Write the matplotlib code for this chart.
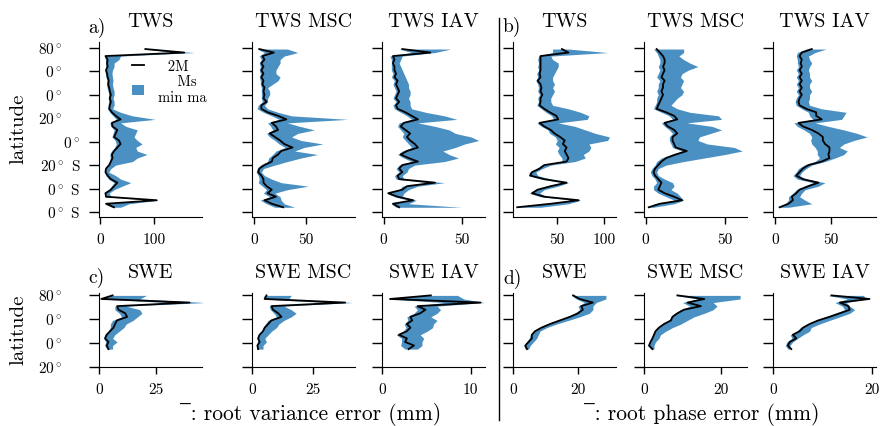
import matplotlib.pyplot as plt
from matplotlib.lines import Line2D
from matplotlib.patches import Patch

plt.rcParams['font.family'] = ['cmr10', 'DejaVu Serif', 'DejaVu Sans']
plt.rcParams['mathtext.fontset'] = 'cm'
plt.rcParams['axes.unicode_minus'] = False

BLUE = '#4a90c2'

# latitude grids (degrees)
lat_top = [79, 76, 73, 70, 67, 64, 61, 58, 55, 52, 49, 46, 43, 40, 37, 34, 31, 28, 25, 22,
           19, 16, 13, 10, 7, 4, 1, -2, -5, -8, -11, -14, -17, -20, -23, -26, -29, -32, -35, -38,
           -41, -44, -47, -50, -53, -56]
lat_bot = [80, 77, 74, 71, 68, 65, 62, 59, 56, 53, 50, 47, 44, 41, 38, 35]

# a) TWS root variance error
tws_var = [84, 156, 10, 14, 13, 14, 11, 13, 14, 16, 15, 17, 18, 20, 18, 20, 18, 17, 22, 29,
           38, 22, 23, 32, 29, 26, 35, 38, 32, 26, 22, 23, 20, 17, 11, 10, 14, 20, 32, 26,
           20, 10, 11, 105, 11, 26]
tws_var_lo = [80, 140, 8, 10, 10, 11, 9, 10, 11, 13, 12, 13, 15, 16, 15, 16, 15, 14, 18, 24,
              30, 18, 20, 26, 24, 22, 28, 30, 27, 21, 18, 19, 17, 13, 9, 8, 11, 16, 26, 21,
              16, 8, 9, 95, 9, 22]
tws_var_hi = [90, 175, 38, 35, 26, 26, 23, 22, 23, 24, 23, 24, 26, 26, 24, 26, 26, 23, 38, 60,
              102, 38, 48, 69, 66, 63, 69, 78, 66, 69, 87, 69, 60, 29, 20, 16, 29, 38, 57, 41,
              26, 17, 20, 108, 54, 38]

msc_var = [5, 19, 8, 10, 7, 9, 7, 9, 7, 9, 8, 10, 9, 10, 9, 12, 7, 7, 13, 23,
           31, 17, 21, 23, 15, 20, 25, 29, 37, 26, 23, 18, 17, 10, 5, 4, 7, 9, 9, 12,
           17, 13, 21, 10, 17, 28]
msc_var_lo = [3, 10, 5, 7, 5, 6, 5, 6, 5, 6, 6, 7, 7, 7, 7, 8, 4, 3, 9, 17,
              24, 13, 16, 18, 12, 15, 20, 24, 30, 21, 18, 14, 13, 6, 3, 2, 4, 5, 4, 8,
              12, 9, 15, 6, 12, 20]
msc_var_hi = [32, 42, 29, 25, 25, 23, 21, 21, 25, 23, 18, 13, 15, 15, 13, 13, 10, 13, 23, 36,
              90, 32, 44, 58, 42, 36, 45, 66, 48, 39, 61, 45, 32, 20, 9, 7, 10, 17, 26, 52,
              32, 20, 25, 26, 29, 39]

iav_var = [12, 30, 6, 7, 6, 7, 7, 8, 7, 9, 8, 9, 10, 9, 8, 10, 8, 9, 14, 18,
           22, 13, 11, 14, 17, 15, 17, 20, 22, 15, 11, 16, 22, 12, 10, 12, 9, 10, 33, 15,
           12, 3, 9, 19, 6, 10]
iav_var_lo = [10, 18, 4, 5, 5, 5, 5, 6, 5, 7, 6, 7, 8, 7, 6, 8, 6, 7, 11, 15,
              18, 10, 9, 11, 13, 12, 14, 16, 18, 12, 9, 13, 18, 10, 8, 10, 7, 8, 28, 12,
              10, 2, 7, 16, 5, 8]
iav_var_hi = [43, 33, 12, 11, 10, 11, 12, 13, 14, 15, 16, 16, 17, 17, 16, 17, 17, 18, 27, 39,
              47, 22, 33, 42, 46, 56, 61, 52, 46, 38, 42, 48, 39, 20, 16, 15, 12, 13, 39, 22,
              16, 13, 12, 21, 16, 50]

# b) TWS root phase error
tws_ph = [55, 62, 32, 32, 32, 32, 32, 31, 32, 29, 32, 33, 32, 34, 32, 32, 31, 36, 42, 49,
          51, 31, 36, 43, 47, 53, 58, 56, 60, 58, 60, 62, 60, 36, 31, 23, 21, 36, 60, 43,
          29, 23, 36, 73, 43, 7]
tws_ph_lo = [45, 45, 30, 29, 30, 29, 30, 28, 29, 27, 29, 30, 29, 31, 29, 30, 28, 33, 38, 44,
             46, 28, 33, 40, 42, 48, 50, 48, 52, 50, 52, 55, 55, 33, 28, 20, 19, 33, 55, 38,
             26, 20, 32, 68, 38, 6]
tws_ph_hi = [62, 104, 43, 45, 51, 51, 49, 47, 45, 45, 47, 45, 47, 45, 43, 43, 45, 62, 75, 84,
             82, 51, 69, 80, 91, 106, 104, 84, 86, 84, 78, 80, 69, 43, 34, 27, 29, 43, 62, 51,
             36, 31, 40, 75, 62, 32]

msc_ph = [7, 9, 11, 12, 12, 11, 12, 11, 10, 12, 11, 11, 10, 11, 10, 9, 8, 7, 13, 18,
          20, 12, 14, 18, 20, 17, 17, 18, 19, 26, 19, 13, 10, 8, 6, 5, 6, 8, 10, 9,
          8, 12, 18, 23, 9, 2]
msc_ph_lo = [5, 7, 8, 9, 9, 8, 9, 8, 7, 9, 8, 8, 7, 8, 7, 7, 6, 5, 10, 15,
             17, 10, 12, 15, 17, 15, 15, 16, 17, 23, 16, 10, 7, 6, 4, 3, 4, 6, 7, 5,
             5, 8, 13, 18, 6, 1]
msc_ph_hi = [24, 24, 21, 24, 28, 33, 27, 23, 22, 24, 23, 22, 24, 23, 20, 18, 16, 20, 28, 46,
             48, 26, 42, 48, 41, 34, 33, 39, 56, 61, 50, 37, 24, 13, 8, 7, 8, 12, 17, 18,
             16, 20, 22, 24, 18, 5]

iav_ph = [33, 24, 22, 24, 23, 24, 22, 24, 22, 24, 22, 24, 22, 24, 22, 21, 22, 28, 37, 37,
          42, 21, 25, 33, 39, 43, 43, 45, 49, 49, 48, 49, 42, 30, 25, 22, 19, 25, 39, 30,
          22, 19, 15, 16, 12, 4]
iav_ph_lo = [28, 20, 19, 20, 20, 21, 19, 21, 19, 21, 19, 21, 19, 21, 19, 18, 19, 24, 30, 31,
             34, 17, 20, 26, 31, 33, 32, 33, 36, 38, 38, 40, 36, 26, 21, 19, 16, 20, 34, 26,
             19, 16, 12, 12, 9, 3]
iav_ph_hi = [46, 36, 30, 31, 33, 31, 30, 31, 31, 33, 31, 31, 33, 31, 31, 30, 31, 42, 64, 62,
             60, 36, 48, 62, 74, 83, 71, 62, 58, 65, 62, 54, 45, 33, 28, 24, 22, 28, 45, 39,
             27, 24, 22, 27, 33, 12]

# c) SWE root variance error
swe_var = [6, 1, 40, 8, 8.6, 11.6, 12.4, 7.9, 7.1, 6.4, 4.9, 3.4, 2.7, 4.2, 3.4, 4.2]
swe_var_lo = [5, 1, 30, 7, 7, 9, 10, 6, 5, 5, 4, 2.5, 2, 3, 2.5, 3.5]
swe_var_hi = [21, 18, 47, 12, 18, 19, 17, 15, 12, 11, 9, 7, 6, 8, 6, 6]

smsc_var = [5.9, 5.2, 38, 7.9, 8.6, 10.7, 12, 7.9, 6.6, 5.2, 4.5, 3.1, 2.5, 3.1, 2.2, 2.5]
smsc_var_lo = [5, 4.5, 30, 7, 7.5, 9, 10, 6.5, 5.5, 4.5, 3.8, 2.5, 2, 2.5, 1.8, 2]
smsc_var_hi = [16, 15, 41, 13, 16, 18, 16, 13, 11, 10, 8, 6.6, 5.2, 5.9, 4.5, 4.5]

siav_var = [5.5, 0.9, 11.1, 4, 4.9, 4.3, 3.2, 3.4, 2.8, 3.2, 2.8, 1.9, 2.8, 2.6, 3.6, 3]
siav_var_lo = [5, 0.8, 7, 3.6, 4, 3.6, 2.8, 2.9, 2.5, 2.7, 2.4, 1.6, 2.2, 2.2, 2.1, 2.6]
siav_var_hi = [8.5, 9.2, 11.5, 6.2, 6.6, 6.2, 5.5, 6.2, 5.8, 5.7, 5.1, 4.3, 4.7, 4.5, 4.5, 4]

# d) SWE root phase error
swe_ph = [18.5, 20.5, 24.6, 21, 21.5, 20, 17.5, 14.4, 11.4, 8.8, 6.8, 5.8, 5.8, 4.8, 3.8, 4.3]
swe_ph_lo = [18, 19.5, 22, 20, 20.5, 19, 16.5, 13.5, 10.5, 8, 6.3, 5.3, 5, 4.2, 3.3, 3.8]
swe_ph_hi = [28.6, 28.6, 25.6, 24.6, 24.6, 23.5, 20.5, 17, 13.4, 10.4, 8.3, 7.8, 7.3, 6.3, 5.3, 4.8]

smsc_ph = [8.7, 15.7, 11.3, 14.8, 10.4, 8.7, 7.4, 7, 5.2, 3.9, 3, 2.6, 2.2, 1.7, 1.3, 2.2]
smsc_ph_lo = [8, 14, 10, 12, 9.5, 8, 7, 6.5, 5, 3.6, 2.7, 2.3, 1.9, 1.4, 1, 1.8]
smsc_ph_hi = [25, 25, 18, 19, 18, 15.7, 13, 11.3, 9.6, 7.4, 5.7, 4.3, 3.9, 3, 2.6, 2.6]

siav_ph = [11.8, 19.5, 13.5, 15.2, 15.5, 13.5, 11.4, 9.1, 7.4, 6.1, 5.4, 4, 4.7, 3.4, 3, 3.7]
siav_ph_lo = [11, 15, 12.5, 14, 14.5, 12.5, 10.5, 8.5, 6.8, 5.5, 4.8, 3.5, 3.8, 2.8, 2.5, 3]
siav_ph_hi = [18.2, 18.9, 14.8, 15.5, 16.5, 15.5, 13.5, 11.4, 9.4, 7.7, 7.4, 6.1, 5, 4, 3.4, 3.4]

top_ticks = [80, 60, 40, 20, 0, -20, -40, -60]
top_labels = ['80$^\\circ$', '0$^\\circ$', '0$^\\circ$', '20$^\\circ$', '0$^\\circ$',
              '20$^\\circ$ S', '0$^\\circ$ S', '0$^\\circ$ S']
top_hidden_n = [True, True, True, True, False, False, False, False]
bot_ticks = [80, 60, 40, 20]
bot_labels = ['80$^\\circ$', '0$^\\circ$', '0$^\\circ$', '20$^\\circ$']
bot_hidden_n = [True, True, True, True]

# pixel layout of the 880x426 figure
W, H = 880, 426
cols = [99, 252, 382, 513, 644, 773]
col_w = 103


def add_panel(fig, col, y0, h, title, lat, line, lo, hi, xlim, xticks, ylim, yticks):
    ax = fig.add_axes([cols[col] / W, 1 - (y0 + h) / H, col_w / W, h / H])
    ax.fill_betweenx(lat, lo, hi, color=BLUE, lw=0)
    ax.plot(line, lat, color='black', lw=1.3)
    ax.set_xlim(xlim)
    ax.set_ylim(ylim)
    ax.set_xticks(xticks)
    ax.set_yticks(yticks)
    ax.set_title(title, fontsize=14.5, pad=11)
    for s in ['top', 'right']:
        ax.spines[s].set_visible(False)
    ax.tick_params(axis='x', length=5, width=1, pad=7, labelsize=11)
    ax.tick_params(axis='y', length=7, width=1, labelsize=11, labelleft=False)
    return ax


fig = plt.figure(figsize=(8.8, 4.26), dpi=100)

top = [
    ('TWS', tws_var, tws_var_lo, tws_var_hi, (-2, 189), [0, 100]),
    ('TWS MSC', msc_var, msc_var_lo, msc_var_hi, (-2, 97), [0, 50]),
    ('TWS IAV', iav_var, iav_var_lo, iav_var_hi, (-1, 65), [0, 50]),
    ('TWS', tws_ph, tws_ph_lo, tws_ph_hi, (2.5, 113), [50, 100]),
    ('TWS MSC', msc_ph, msc_ph_lo, msc_ph_hi, (-1, 64), [0, 50]),
    ('TWS IAV', iav_ph, iav_ph_lo, iav_ph_hi, (-2, 91), [0, 50]),
]
bottom = [
    ('SWE', swe_var, swe_var_lo, swe_var_hi, (0, 45.5), [0, 25]),
    ('SWE MSC', smsc_var, smsc_var_lo, smsc_var_hi, (0, 42), [0, 25]),
    ('SWE IAV', siav_var, siav_var_lo, siav_var_hi, (0, 11.6), [0, 10]),
    ('SWE', swe_ph, swe_ph_lo, swe_ph_hi, (0, 31.7), [0, 20]),
    ('SWE MSC', smsc_ph, smsc_ph_lo, smsc_ph_hi, (0, 26.8), [0, 20]),
    ('SWE IAV', siav_ph, siav_ph_lo, siav_ph_hi, (0, 20.8), [0, 20]),
]

top_axes = []
for i, (t, ln, lo, hi, xl, xt) in enumerate(top):
    top_axes.append(add_panel(fig, i, 42, 175, t, lat_top, ln, lo, hi, xl, xt, (-64.3, 85), top_ticks))
bot_axes = []
for i, (t, ln, lo, hi, xl, xt) in enumerate(bottom):
    bot_axes.append(add_panel(fig, i, 293, 74, t, lat_bot, ln, lo, hi, xl, xt, (20, 82), bot_ticks))

# y labels only on the left panels; the hemisphere letter is missing, keep its room
for ax, labels, hidden in [(top_axes[0], top_labels, top_hidden_n), (bot_axes[0], bot_labels, bot_hidden_n)]:
    ax.tick_params(axis='y', labelleft=True)
    ax.set_yticklabels(labels)
    for tick, h in zip(ax.yaxis.get_major_ticks(), hidden):
        tick.set_pad(19.5 if h else 6.5)

leg = top_axes[0].legend(
    [Line2D([], [], color='black', lw=1.3), Patch(color=BLUE, lw=0)],
    ['  2M', '    Ms\nmin ma'],
    loc='upper left', bbox_to_anchor=(0.25, 0.94), frameon=False, fontsize=10.5,
    borderpad=0, handlelength=0.85, handleheight=0.75, handletextpad=0.95, labelspacing=0.1)

fig.text(18 / W, 1 - 129 / H, 'latitude', rotation=90, ha='center', va='center', fontsize=15)
fig.text(18 / W, 1 - 330 / H, 'latitude', rotation=90, ha='center', va='center', fontsize=15)

fig.text(311 / W, 1 - 415 / H, '‾: root variance error (mm)', ha='center', va='center', fontsize=15.5)
fig.text(702 / W, 1 - 415 / H, '‾: root phase error (mm)', ha='center', va='center', fontsize=15.5)

fig.text(88 / W, 1 - 33 / H, 'a)', fontsize=14, va='baseline')
fig.text(503 / W, 1 - 32 / H, 'b)', fontsize=14, va='baseline')
fig.text(88 / W, 1 - 283 / H, 'c)', fontsize=14, va='baseline')
fig.text(503 / W, 1 - 284 / H, 'd)', fontsize=14, va='baseline')

# vertical separator between the variance and phase halves
fig.add_artist(Line2D([499 / W, 499 / W], [1 - 420 / H, 1 - 18 / H], color='black', lw=1,
                      transform=fig.transFigure))

plt.savefig('out.png', dpi=100)
plt.close()
